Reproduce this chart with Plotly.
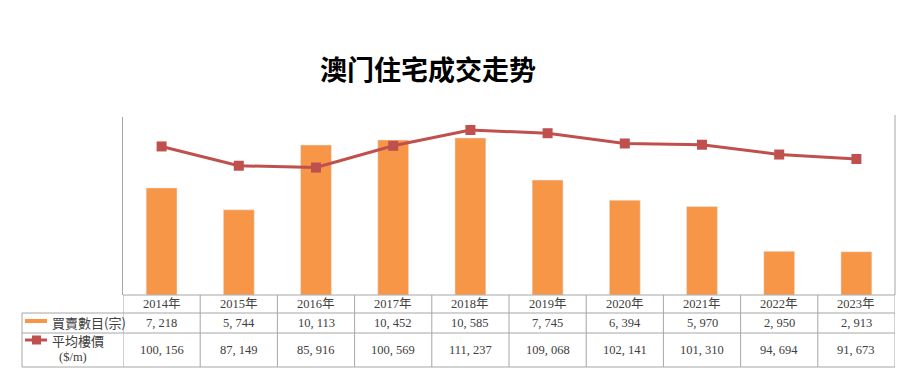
import plotly.graph_objects as go

# ---- data ----
years = ["2014年", "2015年", "2016年", "2017年", "2018年", "2019年", "2020年", "2021年", "2022年", "2023年"]
transactions = [7218, 5744, 10113, 10452, 10585, 7745, 6394, 5970, 2950, 2913]
avg_price = [100156, 87149, 85916, 100569, 111237, 109068, 102141, 101310, 94694, 91673]
series_names = ["買賣數目(宗)", "平均樓價"]
unit_text = "($/m)"
title_text = "澳门住宅成交走势"

# ---- style / layout ----
W, H = 905, 377
BAR_COLOR = "#F79646"
LINE_COLOR = "#C0504D"
GRID = "#A6A6A6"
TXT = "#404040"
SERIF = "SimSun, 'Liberation Serif', 'Noto Sans CJK SC', serif"
SANS = "'Noto Sans CJK SC', 'Noto Sans CJK TC', sans-serif"

def px(x):
    return x / W

def py(y):
    return (H - y) / H

plot_l, plot_r, plot_t, plot_b = 123, 895, 117, 295
row1_b, row2_b, row3_b = 313, 333, 367
table_l = 22

fig = go.Figure()
fig.add_trace(go.Bar(x=list(range(len(years))), y=transactions, marker_color=BAR_COLOR,
                     width=0.4, name=series_names[0], yaxis="y"))
fig.add_trace(go.Scatter(x=list(range(len(years))), y=avg_price, mode="lines+markers",
                         line=dict(color=LINE_COLOR, width=3),
                         marker=dict(symbol="square", size=10, color=LINE_COLOR),
                         name=series_names[1], yaxis="y2"))

shapes = []
def hline(y, x0, x1):
    shapes.append(dict(type="line", xref="paper", yref="paper", x0=px(x0), x1=px(x1),
                       y0=py(y), y1=py(y), line=dict(color=GRID, width=1)))

def vline(x, y0, y1, xref="paper"):
    shapes.append(dict(type="line", xref=xref, yref="paper", x0=x, x1=x,
                       y0=py(y0), y1=py(y1), line=dict(color=GRID, width=1)))

hline(plot_b, plot_l, plot_r)
hline(row1_b, table_l, plot_r)
hline(row2_b, table_l, plot_r)
hline(row3_b, table_l, plot_r)
vline(px(table_l), row1_b, row3_b)
for i in range(len(years) + 1):
    vline(i - 0.5, plot_b, row3_b, xref="x")
# right axis line
vline(px(plot_r), 115, plot_b)

# legend swatches
shapes.append(dict(type="line", xref="paper", yref="paper", x0=px(25), x1=px(47),
                   y0=py(321), y1=py(321), line=dict(color=BAR_COLOR, width=4)))
shapes.append(dict(type="line", xref="paper", yref="paper", x0=px(25), x1=px(47),
                   y0=py(340), y1=py(340), line=dict(color=LINE_COLOR, width=3)))
shapes.append(dict(type="rect", xref="paper", yref="paper", x0=px(32), x1=px(41),
                   y0=py(344.5), y1=py(335.5), line=dict(width=0), fillcolor=LINE_COLOR))

annotations = [dict(text=f"<b>{title_text}</b>", x=px(428), y=py(68), xref="paper", yref="paper",
                    showarrow=False, font=dict(family=SANS, size=27, color="#000000"),
                    xanchor="center", yanchor="middle")]

def fmt(v):
    return f"{v:,}".replace(",", ", ")

cell_font = dict(family=SERIF, size=12.5, color=TXT)
for i, yr in enumerate(years):
    annotations.append(dict(text=yr, x=i, y=py((plot_b + row1_b) / 2), xref="x", yref="paper",
                            showarrow=False, font=cell_font, xanchor="center", yanchor="middle"))
    annotations.append(dict(text=fmt(transactions[i]), x=i, y=py((row1_b + row2_b) / 2),
                            xref="x", yref="paper", showarrow=False, font=cell_font,
                            xanchor="center", yanchor="middle"))
    annotations.append(dict(text=fmt(avg_price[i]), x=i, y=py((row2_b + row3_b) / 2),
                            xref="x", yref="paper", showarrow=False, font=cell_font,
                            xanchor="center", yanchor="middle"))

annotations.append(dict(text=series_names[0], x=px(50), y=py(322), xref="paper", yref="paper",
                        showarrow=False, font=dict(family=SANS, size=13, color=TXT),
                        xanchor="left", yanchor="middle"))
annotations.append(dict(text=series_names[1], x=px(50), y=py(340), xref="paper", yref="paper",
                        showarrow=False, font=dict(family=SANS, size=13, color=TXT),
                        xanchor="left", yanchor="middle"))
annotations.append(dict(text=unit_text, x=px(73), y=py(357), xref="paper", yref="paper",
                        showarrow=False, font=cell_font, xanchor="center", yanchor="middle"))

fig.update_layout(
    width=W, height=H, margin=dict(l=0, r=0, t=0, b=0),
    paper_bgcolor="white", plot_bgcolor="white", showlegend=False,
    xaxis=dict(domain=[px(plot_l), px(plot_r)], range=[-0.5, len(years) - 0.5],
               showticklabels=False, showgrid=False, zeroline=False, showline=False,
               ticks=""),
    yaxis=dict(domain=[py(plot_b), py(plot_t)], range=[0, 12000], showticklabels=False,
               showgrid=False, zeroline=False, showline=True, linecolor=GRID, ticks=""),
    yaxis2=dict(overlaying="y", side="right", range=[0, 120000], showticklabels=False,
                showgrid=False, zeroline=False, showline=False, ticks=""),
    shapes=shapes, annotations=annotations, bargap=0.6,
)
fig.write_html("out.html", config={"displayModeBar": False},
               post_script="document.body.style.margin='0px';document.body.style.overflow='hidden';")
